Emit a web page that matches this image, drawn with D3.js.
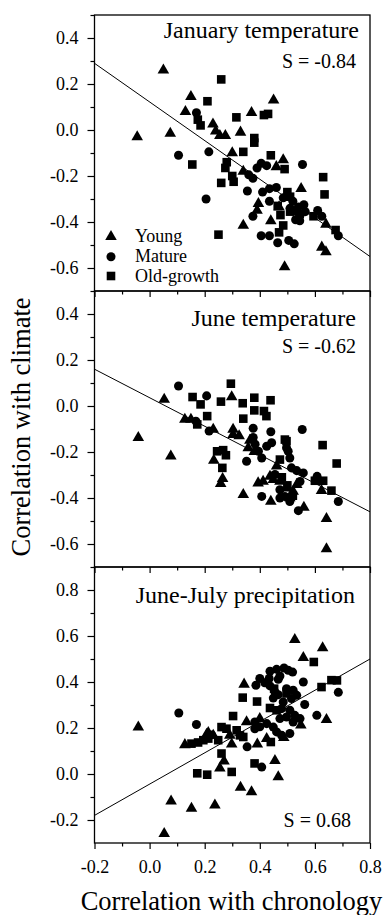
<!DOCTYPE html>
<html>
<head>
<meta charset="utf-8">
<script src="https://cdn.jsdelivr.net/npm/d3@7"></script>
<style>
  body { margin: 0; background: #fff; }
  svg text { font-family: "Liberation Serif", "Times New Roman", serif; fill: #000; }
</style>
</head>
<body>
<script>
// x extent shared by all three panels
var xDomain = [-0.2, 0.8];
var xMajor = [-0.2, 0.0, 0.2, 0.4, 0.6, 0.8];
var xMinor = [-0.1, 0.1, 0.3, 0.5, 0.7];

// ---- January temperature ----
var janYoung = [[0.05,0.26],[0.15,0.145],[0.45,0.13],[0.13,0.08],[0.37,0.075],[0.23,0.025],[0.24,-0.005],
  [0.255,-0.025],[0.275,-0.025],[0.33,-0.01],[-0.045,-0.03],[0.075,-0.015],[0.30,-0.10],[0.485,-0.13],
  [0.46,-0.16],[0.34,-0.18],[0.55,-0.255],[0.395,-0.32],[0.39,-0.35],[0.47,-0.335],[0.44,-0.395],
  [0.34,-0.415],[0.64,-0.41],[0.625,-0.51],[0.64,-0.53],[0.49,-0.595]];
var janMature = [[0.17,0.075],[0.105,-0.11],[0.215,-0.095],[0.39,-0.165],[0.405,-0.145],[0.425,-0.155],
  [0.555,-0.15],[0.36,-0.195],[0.375,-0.21],[0.205,-0.30],[0.355,-0.265],[0.41,-0.27],[0.435,-0.255],
  [0.46,-0.25],[0.435,-0.31],[0.485,-0.295],[0.52,-0.31],[0.54,-0.335],[0.56,-0.325],[0.565,-0.355],
  [0.535,-0.355],[0.51,-0.34],[0.545,-0.375],[0.61,-0.35],[0.625,-0.375],[0.375,-0.375],[0.53,-0.39],
  [0.545,-0.395],[0.685,-0.46],[0.405,-0.46],[0.435,-0.46],[0.465,-0.49],[0.505,-0.48],[0.525,-0.495]];
var janOld = [[0.26,0.22],[0.21,0.125],[0.175,0.045],[0.185,0.02],[0.315,0.055],[0.415,0.065],[0.43,0.07],
  [0.38,-0.035],[0.38,-0.055],[0.34,-0.095],[0.44,-0.11],[0.155,-0.15],[0.28,-0.14],[0.275,-0.165],
  [0.49,-0.17],[0.30,-0.20],[0.305,-0.225],[0.26,-0.23],[0.63,-0.205],[0.635,-0.28],[0.50,-0.27],
  [0.51,-0.29],[0.465,-0.33],[0.595,-0.375],[0.475,-0.37],[0.485,-0.415],[0.47,-0.445],[0.675,-0.435],
  [0.25,-0.455],[0.51,-0.355]];
var janFit = [[-0.2,0.29],[0.8,-0.55]];

// ---- June temperature ----
var junYoung = [[0.053,0.029],[0.298,0.039],[0.128,-0.058],[0.15,-0.058],[0.231,-0.102],[0.303,-0.102],
  [-0.041,-0.138],[0.303,-0.125],[0.325,-0.13],[0.077,-0.218],[0.233,-0.237],[0.265,-0.316],[0.258,-0.338],
  [0.34,-0.386],[0.364,-0.15],[0.358,-0.182],[0.38,-0.198],[0.461,-0.262],[0.624,-0.368],[0.44,-0.415],
  [0.56,-0.441],[0.642,-0.49],[0.642,-0.621],[0.394,-0.335],[0.412,-0.328],[0.437,-0.306],[0.449,-0.32],
  [0.473,-0.328],[0.497,-0.357],[0.521,-0.371],[0.509,-0.40],[0.534,-0.342]];
var junMature = [[0.105,0.087],[0.207,0.044],[0.168,-0.066],[0.216,-0.109],[0.376,-0.097],[0.44,-0.112],
  [0.554,-0.102],[0.376,-0.137],[0.352,-0.24],[0.383,-0.166],[0.395,-0.197],[0.407,-0.226],[0.425,-0.175],
  [0.443,-0.16],[0.497,-0.182],[0.503,-0.197],[0.509,-0.226],[0.515,-0.269],[0.534,-0.281],[0.558,-0.291],
  [0.608,-0.306],[0.685,-0.415],[0.407,-0.393],[0.54,-0.455],[0.473,-0.40],[0.455,-0.298],[0.473,-0.364],
  [0.491,-0.393],[0.509,-0.415],[0.546,-0.328]];
var junOld = [[0.295,0.097],[0.156,0.039],[0.185,0.007],[0.259,0.019],[0.338,0.012],[0.38,0.036],
  [0.439,0.025],[0.209,-0.044],[0.38,-0.019],[0.415,-0.022],[0.424,-0.044],[0.34,-0.055],[0.173,-0.08],
  [0.491,-0.146],[0.245,-0.197],[0.267,-0.192],[0.277,-0.214],[0.264,-0.269],[0.497,-0.153],[0.473,-0.233],
  [0.628,-0.17],[0.679,-0.25],[0.60,-0.325],[0.63,-0.325],[0.66,-0.368],[0.48,-0.31],[0.50,-0.345],
  [0.52,-0.39]];
var junFit = [[-0.2,0.16],[0.8,-0.46]];

// ---- June-July precipitation ----
var preYoung = [[0.527,0.584],[0.628,0.548],[0.558,0.506],[0.343,0.39],[0.642,0.236],[-0.041,0.204],
  [0.549,0.212],[0.128,0.127],[0.298,0.13],[0.391,0.13],[0.487,0.158],[0.27,0.056],[0.255,0.025],
  [0.455,0.058],[0.467,-0.013],[0.33,-0.058],[0.37,-0.078],[0.078,-0.118],[0.152,-0.15],[0.237,-0.136],
  [0.053,-0.259],[0.207,0.172],[0.352,0.226],[0.40,0.241],[0.213,0.18],[0.231,0.168],[0.291,0.168],
  [0.425,0.154]];
var preMature = [[0.437,0.447],[0.461,0.455],[0.488,0.461],[0.503,0.451],[0.519,0.443],[0.473,0.426],
  [0.467,0.412],[0.434,0.415],[0.40,0.415],[0.418,0.397],[0.386,0.386],[0.437,0.383],[0.455,0.357],
  [0.467,0.345],[0.497,0.371],[0.521,0.364],[0.534,0.342],[0.515,0.328],[0.449,0.33],[0.558,0.40],
  [0.685,0.355],[0.563,0.302],[0.607,0.255],[0.106,0.265],[0.17,0.215],[0.354,0.118],[0.407,0.03],
  [0.485,0.313],[0.479,0.284],[0.509,0.277],[0.527,0.255],[0.546,0.241],[0.497,0.248],[0.521,0.226],
  [0.473,0.241],[0.382,0.226],[0.40,0.205],[0.425,0.219],[0.449,0.204],[0.509,0.176],[0.461,0.183],
  [0.479,0.168],[0.382,0.197],[0.225,0.17]];
var preOld = [[0.596,0.487],[0.338,0.332],[0.39,0.315],[0.437,0.287],[0.624,0.378],[0.66,0.408],
  [0.68,0.407],[0.303,0.252],[0.152,0.132],[0.176,0.137],[0.195,0.147],[0.213,0.154],[0.249,0.147],
  [0.261,0.089],[0.173,0.003],[0.209,-0.003],[0.298,0.009],[0.381,0.046],[0.44,0.139],[0.261,0.204],
  [0.279,0.197],[0.316,0.19],[0.34,0.161],[0.328,0.168],[0.452,0.371],[0.497,0.35],[0.461,0.277]];
var preFit = [[-0.2,-0.18],[0.8,0.5]];

var legendLabels = ["Young", "Mature", "Old-growth"];

var panels = [
  {title: "January temperature", stat: "S = -0.84", domain: [-0.7, 0.5],
   major: [-0.6,-0.4,-0.2,0.0,0.2,0.4], minor: [-0.5,-0.3,-0.1,0.1,0.3,0.5],
   series: [janYoung, janMature, janOld], fit: janFit, legend: true},
  {title: "June temperature", stat: "S = -0.62", domain: [-0.7, 0.5],
   major: [-0.6,-0.4,-0.2,0.0,0.2,0.4], minor: [-0.5,-0.3,-0.1,0.1,0.3,0.5],
   series: [junYoung, junMature, junOld], fit: junFit, legend: false},
  {title: "June-July precipitation", stat: "S = 0.68", domain: [-0.3, 0.9],
   major: [-0.2,0.0,0.2,0.4,0.6,0.8], minor: [-0.1,0.1,0.3,0.5,0.7,0.9],
   series: [preYoung, preMature, preOld], fit: preFit, legend: false}
];

var W = 386, H = 915;
var left = 94.5, right = 370, top0 = 15, ph = 276;
var shapes = [d3.symbolTriangle, d3.symbolCircle, d3.symbolSquare];
var sizes = [58, 64, 74];
var fmt = function(d){ return d.toFixed(1); };
var serif = "Liberation Serif, Times New Roman, serif";

var svg = d3.select("body").append("svg").attr("width", W).attr("height", H);

var x = d3.scaleLinear().domain(xDomain).range([left, right]);

panels.forEach(function(p, i){
  var y0 = top0 + i * ph;
  var y = d3.scaleLinear().domain(p.domain).range([y0 + ph, y0]);
  var g = svg.append("g");

  // regression line
  g.append("line")
    .attr("x1", x(p.fit[0][0])).attr("y1", y(p.fit[0][1]))
    .attr("x2", x(p.fit[1][0])).attr("y2", y(p.fit[1][1]))
    .style("stroke", "#000").style("stroke-width", 1);

  // points
  p.series.forEach(function(s, k){
    g.append("g").selectAll("path")
      .data(s).enter().append("path")
      .attr("d", d3.symbol().type(shapes[k]).size(sizes[k]))
      .attr("transform", function(d){ return "translate(" + x(d[0]) + "," + y(d[1]) + ")"; })
      .style("fill", "#000");
  });

  // y axis, major + minor
  g.append("g").attr("transform", "translate(" + left + ",0)")
    .call(d3.axisLeft(y).tickValues(p.major).tickFormat(fmt).tickSize(7).tickPadding(9));
  g.append("g").attr("transform", "translate(" + left + ",0)")
    .call(d3.axisLeft(y).tickValues(p.minor).tickFormat("").tickSize(4));

  // x axis at bottom of each panel
  g.append("g").attr("transform", "translate(0," + (y0 + ph) + ")")
    .call(d3.axisBottom(x).tickValues(xMajor).tickFormat(i == 2 ? fmt : "").tickSize(6).tickPadding(11));
  g.append("g").attr("transform", "translate(0," + (y0 + ph) + ")")
    .call(d3.axisBottom(x).tickValues(xMinor).tickFormat("").tickSize(3.5));

  g.selectAll(".domain").remove();
  g.selectAll("g").attr("font-family", serif).attr("font-size", 18);
  g.selectAll(".tick line").style("stroke", "#000").style("stroke-width", 1.2);
  g.selectAll(".tick text").style("font-family", serif).style("font-size", "18px").style("fill", "#000");

  // frame
  g.append("rect").attr("x", left).attr("y", y0).attr("width", right - left).attr("height", ph)
    .style("fill", "none").style("stroke", "#000").style("stroke-width", 1.3);

  // title and statistic
  g.append("text").attr("x", [359, 356, 355][i]).attr("y", [38, 326, 603][i])
    .attr("text-anchor", "end").style("font-size", "24px").text(p.title);
  g.append("text").attr("x", [356, 356, 351][i]).attr("y", [68, 353, 827][i])
    .attr("text-anchor", "end").style("font-size", "20px").text(p.stat);

  if (p.legend) {
    var ly = [236.7, 256.7, 276];
    legendLabels.forEach(function(lab, k){
      g.append("path")
        .attr("d", d3.symbol().type(shapes[k]).size(sizes[k]))
        .attr("transform", "translate(111," + ly[k] + ")")
        .style("fill", "#000");
      g.append("text").attr("x", 135).attr("y", ly[k] + 5.5)
        .style("font-size", "18px").text(lab);
    });
  }
});

// axis titles
svg.append("text")
  .attr("transform", "translate(30,427) rotate(-90)")
  .attr("text-anchor", "middle").style("font-size", "26.5px")
  .text("Correlation with climate");
svg.append("text")
  .attr("x", 231.5).attr("y", 910)
  .attr("text-anchor", "middle").style("font-size", "26.5px")
  .text("Correlation with chronology");
</script>
</body>
</html>
